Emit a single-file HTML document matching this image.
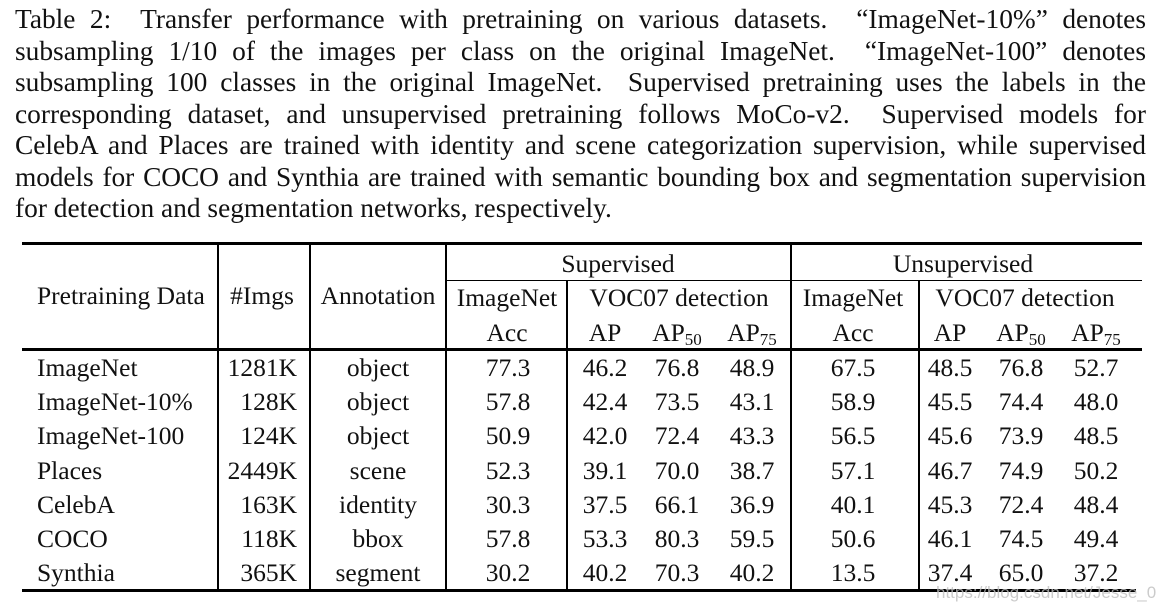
<!DOCTYPE html>
<html><head><meta charset="utf-8"><style>
body{margin:0;width:1160px;height:609px;background:#fff;position:relative;overflow:hidden;font-family:"Liberation Serif",serif;color:#111}
.cap{position:absolute;left:15px;width:1131px;font-size:27.4px;line-height:31.5px;top:4px}
.cap div{text-align:justify;text-align-last:justify;white-space:nowrap;height:31.5px}
.cap div.last{text-align-last:left}
.t{position:absolute;font-size:25.5px;line-height:25px;white-space:nowrap}
.c{transform:translateX(-50%)}
.r{transform:translateX(-100%)}
.h{position:absolute;background:#000}
sub{font-size:17px;vertical-align:-4px;line-height:0}
</style></head><body>
<div class="cap">
<div>Table 2: &nbsp;Transfer performance with pretraining on various datasets. &nbsp;“ImageNet-10%” denotes</div>
<div>subsampling 1/10 of the images per class on the original ImageNet. &nbsp;“ImageNet-100” denotes</div>
<div>subsampling 100 classes in the original ImageNet. &nbsp;Supervised pretraining uses the labels in the</div>
<div>corresponding dataset, and unsupervised pretraining follows MoCo-v2. &nbsp;Supervised models for</div>
<div>CelebA and Places are trained with identity and scene categorization supervision, while supervised</div>
<div style="letter-spacing:-0.1px">models for COCO and Synthia are trained with semantic bounding box and segmentation supervision</div>
<div class="last">for detection and segmentation networks, respectively.</div>
</div>
<div id="tbl"></div>
<div class="t" style="left:936px;top:580px;width:220px;overflow:hidden;font-family:'Liberation Sans',sans-serif;font-size:17px;color:rgba(190,190,190,0.8)">https://blog.csdn.net/Jesse_08</div>
<script>
const rows=["ImageNet","ImageNet-10%","ImageNet-100","Places","CelebA","COCO","Synthia"];
const imgs=["1281K","128K","124K","2449K","163K","118K","365K"];
const ann=["object","object","object","scene","identity","bbox","segment"];
const supAcc=["77.3","57.8","50.9","52.3","30.3","57.8","30.2"];
const supAP=["46.2","42.4","42.0","39.1","37.5","53.3","40.2"];
const supAP50=["76.8","73.5","72.4","70.0","66.1","80.3","70.3"];
const supAP75=["48.9","43.1","43.3","38.7","36.9","59.5","40.2"];
const unAcc=["67.5","58.9","56.5","57.1","40.1","50.6","13.5"];
const unAP=["48.5","45.5","45.6","46.7","45.3","46.1","37.4"];
const unAP50=["76.8","74.4","73.9","74.9","72.4","74.5","65.0"];
const unAP75=["52.7","48.0","48.5","50.2","48.4","49.4","37.2"];
const T=document.getElementById('tbl');
function txt(s,x,y,al,name){const d=document.createElement('div');d.className='t '+(al||'');d.style.left=x+'px';d.style.top=(y-13)+'px';d.innerHTML=s;


T.appendChild(d);}
function line(x,y,w,h,name){const d=document.createElement('div');d.className='h';d.style.left=x+'px';d.style.top=y+'px';d.style.width=w+'px';d.style.height=h+'px';


T.appendChild(d);}
line(22,242,1120,3,'top-rule');
line(22,348,1120,3,'header-rule');
line(22,589,1114,3,'bottom-rule');
line(445,280,697,1,'supervised-underline');
[217,309,445,790].forEach(x=>line(x,244,1.5,346,'column-divider'));
[566,918].forEach(x=>line(x,281,1.5,309,'column-divider'));
txt("Pretraining Data",37,296,'','header-pretraining-data');
txt("#Imgs",262,296,'c','header-imgs');
txt("Annotation",378,296,'c','header-annotation');
txt("Supervised",618,264,'c','header-supervised');
txt("Unsupervised",963,264,'c','header-unsupervised');
txt("ImageNet",507,298,'c','header-sup-imagenet');
txt("Acc",507,333,'c','header-sup-acc');
txt("VOC07 detection",679,298,'c','header-sup-voc');
txt("ImageNet",853,298,'c','header-unsup-imagenet');
txt("Acc",853,333,'c','header-unsup-acc');
txt("VOC07 detection",1025,298,'c','header-unsup-voc');
const cx=[605,677,752,950,1021,1096];
const hl=["AP","AP<sub>50</sub>","AP<sub>75</sub>","AP","AP<sub>50</sub>","AP<sub>75</sub>"];
hl.forEach((s,i)=>txt(s,cx[i],333,'c','header-ap'));
const cols=[[supAP,605],[supAP50,677],[supAP75,752],[unAP,950],[unAP50,1021],[unAP75,1096]];
rows.forEach((r,i)=>{const y=368+i*34.2;
txt(r,37,y,'','row-name');
txt(imgs[i],297,y,'r','row-imgs');
txt(ann[i],378,y,'c','row-annotation');
txt(supAcc[i],508,y,'c','row-sup-acc');
txt(unAcc[i],853,y,'c','row-unsup-acc');
cols.forEach(([a,x])=>txt(a[i],x,y,'c','row-ap-value'));
});
</script>
</body></html>
